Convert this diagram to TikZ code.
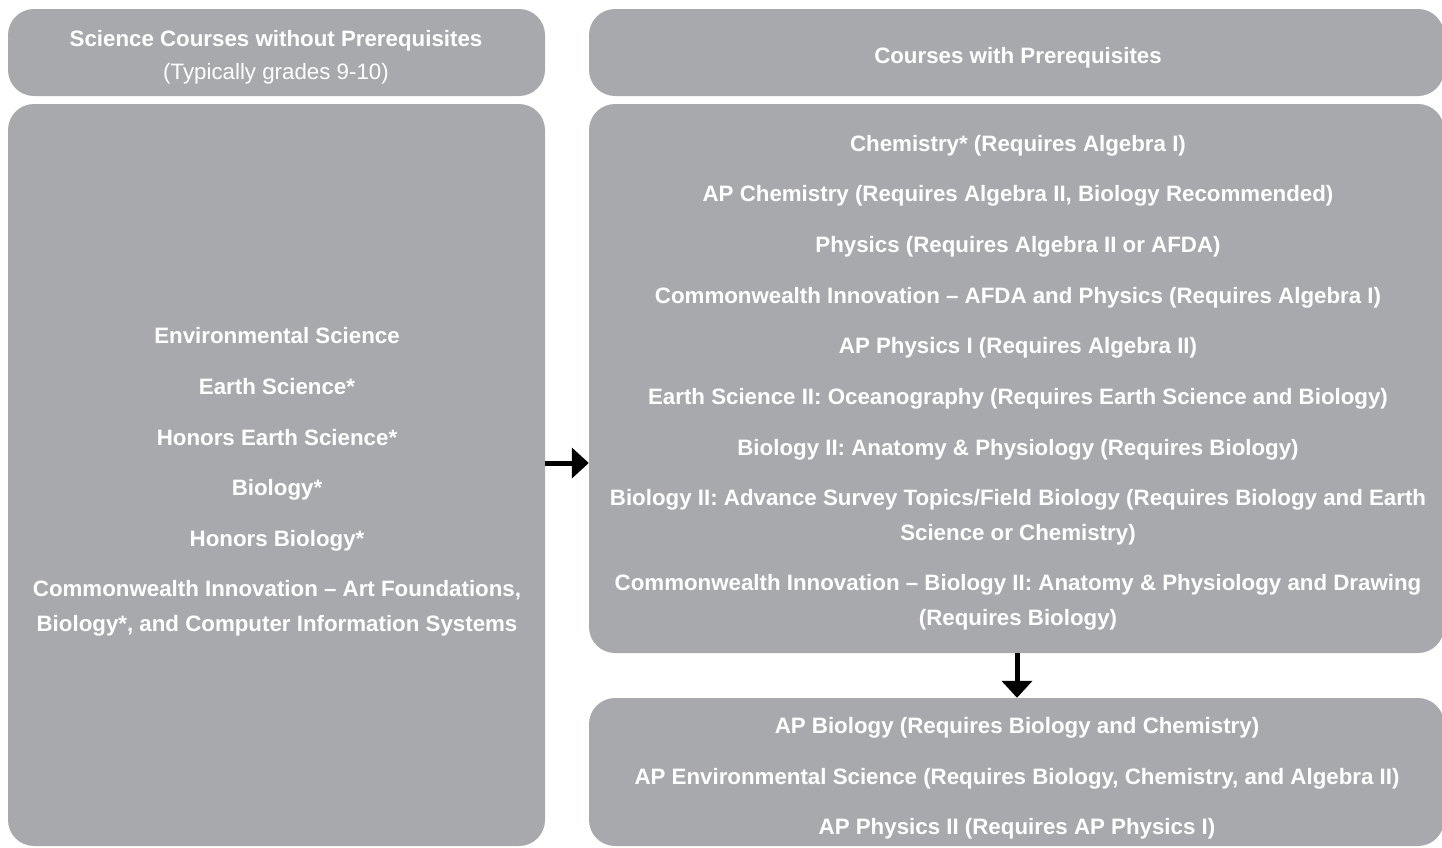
\documentclass[tikz,border=0pt]{standalone}
\usepackage{fontspec}
\setmainfont{Liberation Sans}
\usetikzlibrary{arrows.meta}
\definecolor{boxgray}{RGB}{168,169,173}
\begin{document}
\begin{tikzpicture}[x=1pt,y=-1pt,
  panel/.style={fill=boxgray, draw=none, rounded corners=26pt, inner sep=0pt, minimum width=#1},
  itemtxt/.style={text=white, inner sep=0pt, align=center, anchor=base,
    font=\fontsize{22.3}{34.5}\selectfont\bfseries},
  subtxt/.style={text=white, inner sep=0pt, align=center, anchor=base,
    font=\fontsize{22.3}{34.5}\selectfont},
  link/.style={line width=5pt, -{Triangle[length=17pt,width=30pt]}}]
\useasboundingbox (0,0) rectangle (1442,847);
\clip (0,0) rectangle (1442,847);
% panels
\node[panel=537pt, minimum height=87pt] (lh) at (276.5,52.5) {};
\node[panel=537pt, minimum height=742pt] (lm) at (276.5,475) {};
\node[panel=855pt, minimum height=87pt] (rh) at (1016.5,52.5) {};
\node[panel=855pt, minimum height=549pt] (rm) at (1016.5,378.5) {};
\node[panel=855pt, minimum height=148pt] (rb) at (1016.5,772) {};
% headers
\node[itemtxt] (lht) at (276,46) {Science Courses without Prerequisites};
\node[subtxt] (lhs) at (276,79) {(Typically grades 9-10)};
\node[itemtxt] (rht) at (1018,63) {Courses with Prerequisites};
% left list
\node[itemtxt] (l1) at (277,343) {Environmental Science};
\node[itemtxt] (l2) at (277,394) {Earth Science*};
\node[itemtxt] (l3) at (277,445) {Honors Earth Science*};
\node[itemtxt] (l4) at (277,495) {Biology*};
\node[itemtxt] (l5) at (277,546) {Honors Biology*};
\node[itemtxt] (l6) at (277,631) {Commonwealth Innovation -- Art Foundations,\\Biology*, and Computer Information Systems};
% right list
\node[itemtxt] (r1) at (1018,151) {Chemistry* (Requires Algebra I)};
\node[itemtxt] (r2) at (1018,201) {AP Chemistry (Requires Algebra II, Biology Recommended)};
\node[itemtxt] (r3) at (1018,252) {Physics (Requires Algebra II or AFDA)};
\node[itemtxt] (r4) at (1018,303) {Commonwealth Innovation -- AFDA and Physics (Requires Algebra I)};
\node[itemtxt] (r5) at (1018,353) {AP Physics I (Requires Algebra II)};
\node[itemtxt] (r6) at (1018,404) {Earth Science II: Oceanography (Requires Earth Science and Biology)};
\node[itemtxt] (r7) at (1018,455) {Biology II: Anatomy \& Physiology (Requires Biology)};
\node[itemtxt] (r8) at (1018,540) {Biology II: Advance Survey Topics/Field Biology (Requires Biology and Earth\\Science or Chemistry)};
\node[itemtxt] (r9) at (1018,625) {Commonwealth Innovation -- Biology II: Anatomy \& Physiology and Drawing\\(Requires Biology)};
% bottom list
\node[itemtxt] (b1) at (1017,733) {AP Biology (Requires Biology and Chemistry)};
\node[itemtxt] (b2) at (1017,784) {AP Environmental Science (Requires Biology, Chemistry, and Algebra II)};
\node[itemtxt] (b3) at (1017,834) {AP Physics II (Requires AP Physics I)};
% connectors
\coordinate (ay) at (0,463);
\coordinate (ax) at (1017,0);
\draw[link] (lm.east |- ay) -- (rm.west |- ay);
\draw[link] (rm.south -| ax) -- (rb.north -| ax);
\end{tikzpicture}
\end{document}
